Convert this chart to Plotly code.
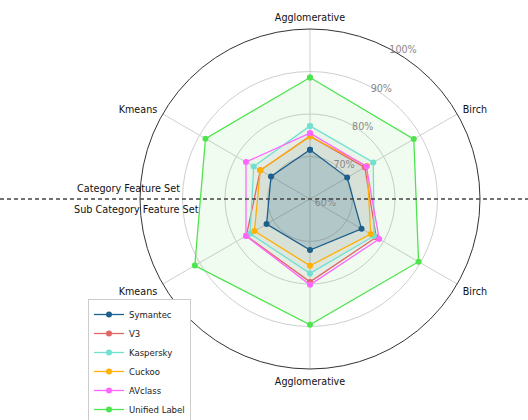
import plotly.graph_objects as go

axes_labels = ["Agglomerative", "Birch", "Birch", "Agglomerative", "Kmeans", "Kmeans"]
theta_deg = [0, 60, 120, 180, 240, 300]

series_names = ["Symantec", "V3", "Kaspersky", "Cuckoo", "AVclass", "Unified Label"]
symantec = [71.6, 70.1, 74.0, 72.0, 71.8, 70.6]
v3 = [74.8, 74.9, 78.0, 79.5, 77.3, 73.5]
kaspersky = [77.2, 77.2, 77.4, 77.5, 76.3, 75.3]
cuckoo = [74.7, 75.5, 76.5, 75.7, 75.1, 73.5]
avclass = [75.5, 75.3, 78.8, 80.2, 77.4, 77.4]
unified = [88.6, 88.2, 89.5, 89.6, 91.3, 88.4]

radial_ticks = [60, 70, 80, 90, 100]
radial_ticktext = ["60%", "70%", "80%", "90%", "100%"]

colors = ["#1f5f8b", "#e06666", "#72e0d0", "#ffb000", "#ff66ff", "#4ee44e"]
fills = ["rgba(31,95,139,0.20)", "rgba(120,120,120,0.05)", "rgba(120,120,120,0.05)",
         "rgba(120,120,120,0.05)", "rgba(120,120,120,0.05)", "rgba(60,210,60,0.07)"]

data = [symantec, v3, kaspersky, cuckoo, avclass, unified]

fig = go.Figure()
order = [5, 1, 2, 3, 4, 0]
# filled areas (no legend entries)
for i in order:
    vals = data[i]
    fig.add_trace(go.Scatterpolar(
        r=vals + [vals[0]], theta=theta_deg + [theta_deg[0]],
        mode="lines", line=dict(width=0, color=colors[i]),
        fill="toself", fillcolor=fills[i],
        showlegend=False, hoverinfo="skip",
    ))
# outlines with markers
for i in order:
    vals = data[i]
    fig.add_trace(go.Scatterpolar(
        r=vals + [vals[0]], theta=theta_deg + [theta_deg[0]],
        mode="lines+markers", name=series_names[i],
        line=dict(color=colors[i], width=1.3),
        marker=dict(color=colors[i], size=6),
        legendrank=i + 1,
    ))

fig.update_layout(
    width=528, height=420,
    margin=dict(l=0, r=0, t=0, b=0, autoexpand=False),
    paper_bgcolor="white", plot_bgcolor="white",
    font=dict(family="DejaVu Sans", size=9.6, color="#222"),
    polar=dict(
        domain=dict(x=[140 / 528, 480 / 528], y=[1 - 369 / 420, 1 - 29 / 420]),
        bgcolor="white",
        angularaxis=dict(
            tickmode="array", tickvals=theta_deg, ticktext=axes_labels,
            rotation=90, direction="clockwise", thetaunit="degrees",
            showline=True, linecolor="#333", linewidth=1,
            showgrid=True, gridcolor="#cfcfcf", gridwidth=1,
            ticks="outside", ticklen=4, tickcolor="rgba(0,0,0,0)",
            tickfont=dict(size=9.6, color="#111"),
        ),
        radialaxis=dict(
            range=[60, 100], tickmode="array", tickvals=radial_ticks,
            ticktext=radial_ticktext, angle=64, tickangle=64,
            showline=False, ticks="", showgrid=True, gridcolor="#cfcfcf", gridwidth=1,
            tickfont=dict(size=9.6, color="#888"),
        ),
    ),
    legend=dict(
        x=88 / 528, y=1 - 299 / 420, xanchor="left", yanchor="top",
        bgcolor="white", bordercolor="#cccccc", borderwidth=1,
        font=dict(size=8.5, color="#222"), tracegroupgap=0,
    ),
    showlegend=True,
)

fig.add_shape(type="line", xref="paper", yref="paper", x0=0, x1=1,
              y0=1 - 199 / 420, y1=1 - 199 / 420,
              line=dict(color="#444", width=1.5, dash="4px,3px"))
fig.add_annotation(text="Category Feature Set", xref="paper", yref="paper",
                   x=75 / 528, y=1 - 189 / 420, showarrow=False,
                   font=dict(size=9.7, color="#111"))
fig.add_annotation(text="Sub Category Feature Set", xref="paper", yref="paper",
                   x=72 / 528, y=1 - 209 / 420, showarrow=False,
                   font=dict(size=9.7, color="#111"))

fig.write_html("out.html")
